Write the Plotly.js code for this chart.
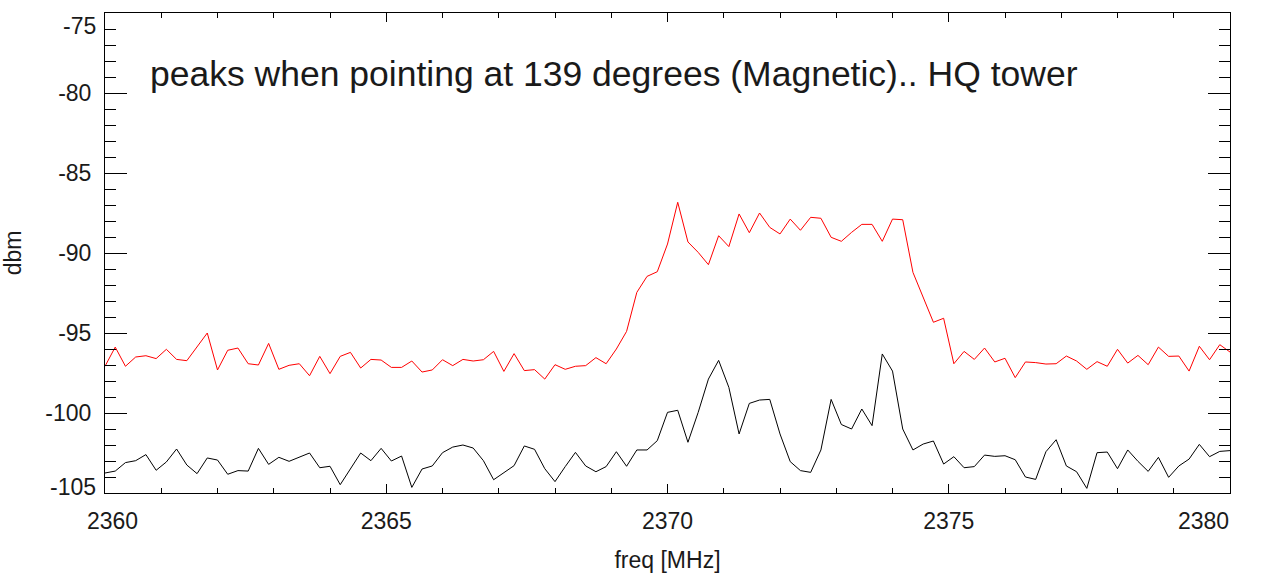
<!DOCTYPE html>
<html>
<head>
<meta charset="utf-8">
<script src="https://cdn.plot.ly/plotly-3.0.1.min.js"></script>
<style>html,body{margin:0;padding:0;background:#fff;}#chart{width:1270px;height:578px;}</style>
</head>
<body>
<div id="chart"></div>
<script>
// sweep: 111 points from 2360 MHz to 2380 MHz
const freqStart = 2360;
const freqStep = 20 / 110;

// red trace (pointing at 139 deg magnetic), dBm
const redValues = [
  -97.08, -95.88, -97.08, -96.50, -96.42, -96.60, -96.02, -96.65, -96.73, -95.85,
  -95.00, -97.31, -96.08, -95.94, -96.92, -97.00, -95.65, -97.27, -97.02, -96.92,
  -97.67, -96.46, -97.54, -96.46, -96.21, -97.19, -96.65, -96.69, -97.15, -97.15,
  -96.75, -97.44, -97.31, -96.67, -97.04, -96.65, -96.75, -96.67, -96.15, -97.40,
  -96.29, -97.35, -97.29, -97.88, -96.98, -97.27, -97.08, -97.04, -96.54, -96.92,
  -96.00, -94.90, -92.46, -91.46, -91.17, -89.44, -86.83, -89.31, -89.96, -90.73,
  -88.92, -89.60, -87.56, -88.73, -87.50, -88.40, -88.81, -87.88, -88.58, -87.77,
  -87.83, -89.02, -89.27, -88.71, -88.21, -88.21, -89.27, -87.88, -87.92, -91.21,
  -92.77, -94.33, -94.08, -96.92, -96.15, -96.65, -95.94, -96.81, -96.58, -97.79,
  -96.81, -96.85, -96.94, -96.92, -96.44, -96.75, -97.27, -96.79, -97.08, -96.02,
  -96.88, -96.40, -96.98, -95.88, -96.46, -96.44, -97.38, -95.83, -96.67, -95.73,
  -96.19
];

// black trace (reference), dBm
const blackValues = [
  -103.75, -103.63, -103.10, -102.98, -102.60, -103.58, -103.06, -102.25, -103.25, -103.79,
  -102.81, -102.94, -103.83, -103.60, -103.63, -102.21, -103.21, -102.77, -103.02, -102.77,
  -102.50, -103.42, -103.33, -104.48, -103.50, -102.50, -102.98, -102.21, -103.00, -102.69,
  -104.65, -103.50, -103.31, -102.48, -102.13, -102.00, -102.19, -102.98, -104.17, -103.73,
  -103.29, -102.06, -102.27, -103.48, -104.29, -103.35, -102.46, -103.31, -103.67, -103.35,
  -102.42, -103.33, -102.31, -102.31, -101.73, -99.96, -99.83, -101.83, -99.96, -97.88,
  -96.71, -98.40, -101.31, -99.40, -99.19, -99.15, -101.31, -103.04, -103.60, -103.71,
  -102.31, -99.15, -100.72, -101.00, -99.75, -100.79, -96.31, -97.38, -101.00, -102.31,
  -101.94, -101.75, -103.19, -102.73, -103.42, -103.35, -102.63, -102.71, -102.67, -102.92,
  -104.00, -104.15, -102.42, -101.67, -103.31, -103.67, -104.71, -102.48, -102.44, -103.48,
  -102.31, -103.02, -103.65, -102.77, -104.02, -103.31, -102.88, -101.96, -102.73, -102.40,
  -102.35
];

const xRange = [2360, 2380];
const yRange = [-105, -75];
// inner tick labels (drawn by the axes)
const xTickVals = [2365, 2370, 2375];
const xTickText = ['2365', '2370', '2375'];
const yTickVals = [-100, -95, -90, -85, -80];
const yTickText = ['-100', '-95', '-90', '-85', '-80'];
// end-of-axis labels (drawn slightly inside the frame, as in the original)
const xEndVals = [2360, 2380];
const xEndText = ['2360', '2380'];
const yEndVals = [-75, -105];
const yEndText = ['-75', '-105'];

const annotationText = 'peaks when pointing at 139 degrees (Magnetic).. HQ tower';
const xTitle = 'freq [MHz]';
const yTitle = 'dbm';

const FONT = 'Liberation Sans, Arial, Helvetica, sans-serif';
const TXT = '#1a1a1a';
const TICK_FS = 23;

const traces = [
  {type: 'scatter', mode: 'lines', x0: freqStart, dx: freqStep, y: redValues,
   line: {color: '#ff0000', width: 1}, hoverinfo: 'skip'},
  {type: 'scatter', mode: 'lines', x0: freqStart, dx: freqStep, y: blackValues,
   line: {color: '#000000', width: 1}, hoverinfo: 'skip'}
];

const axisCommon = {
  showgrid: false, zeroline: false,
  showline: true, linecolor: '#000', linewidth: 1, mirror: 'ticks',
  ticks: 'inside', tickcolor: '#000', tickwidth: 1,
  tickfont: {family: FONT, size: TICK_FS, color: TXT},
  tickmode: 'array'
};

const annotations = [{
  xref: 'paper', yref: 'paper', x: 0.038, y: 0.872, xanchor: 'left', yanchor: 'middle',
  text: annotationText, showarrow: false,
  font: {family: FONT, size: 35.5, color: TXT}
}];
const xShifts = [7, -27];
xEndVals.forEach((v, i) => annotations.push({
  xref: 'x', yref: 'paper', x: v, y: 0, xanchor: 'center', yanchor: 'top',
  xshift: xShifts[i], yshift: -13, text: xEndText[i], showarrow: false,
  font: {family: FONT, size: TICK_FS, color: TXT}
}));
const yShifts = [-13, 6];
yEndVals.forEach((v, i) => annotations.push({
  xref: 'paper', yref: 'y', x: 0, y: v, xanchor: 'right', yanchor: 'middle',
  xshift: -7, yshift: yShifts[i], text: yEndText[i], showarrow: false,
  font: {family: FONT, size: TICK_FS, color: TXT}
}));

const layout = {
  width: 1270, height: 578,
  paper_bgcolor: '#fff', plot_bgcolor: '#fff',
  showlegend: false,
  margin: {l: 105, r: 40, t: 13, b: 85, pad: 0},
  xaxis: Object.assign({}, axisCommon, {
    range: xRange, tickvals: xTickVals, ticktext: xTickText, ticklen: 9,
    minor: {tickmode: 'linear', tick0: 2360, dtick: 1, ticks: 'inside', ticklen: 5, tickcolor: '#000', tickwidth: 1},
    ticklabelstandoff: 7,
    title: {text: xTitle, font: {family: FONT, size: TICK_FS, color: TXT}, standoff: 19}
  }),
  yaxis: Object.assign({}, axisCommon, {
    range: yRange, tickvals: yTickVals, ticktext: yTickText, ticklen: 22,
    minor: {tickmode: 'linear', tick0: -105, dtick: 1, ticks: 'inside', ticklen: 11, tickcolor: '#000', tickwidth: 1},
    ticklabelstandoff: 8,
    title: {text: yTitle, font: {family: FONT, size: TICK_FS, color: TXT}, standoff: 22}
  }),
  annotations: annotations
};

Plotly.newPlot('chart', traces, layout, {staticPlot: true, displayModeBar: false});
</script>
</body>
</html>
